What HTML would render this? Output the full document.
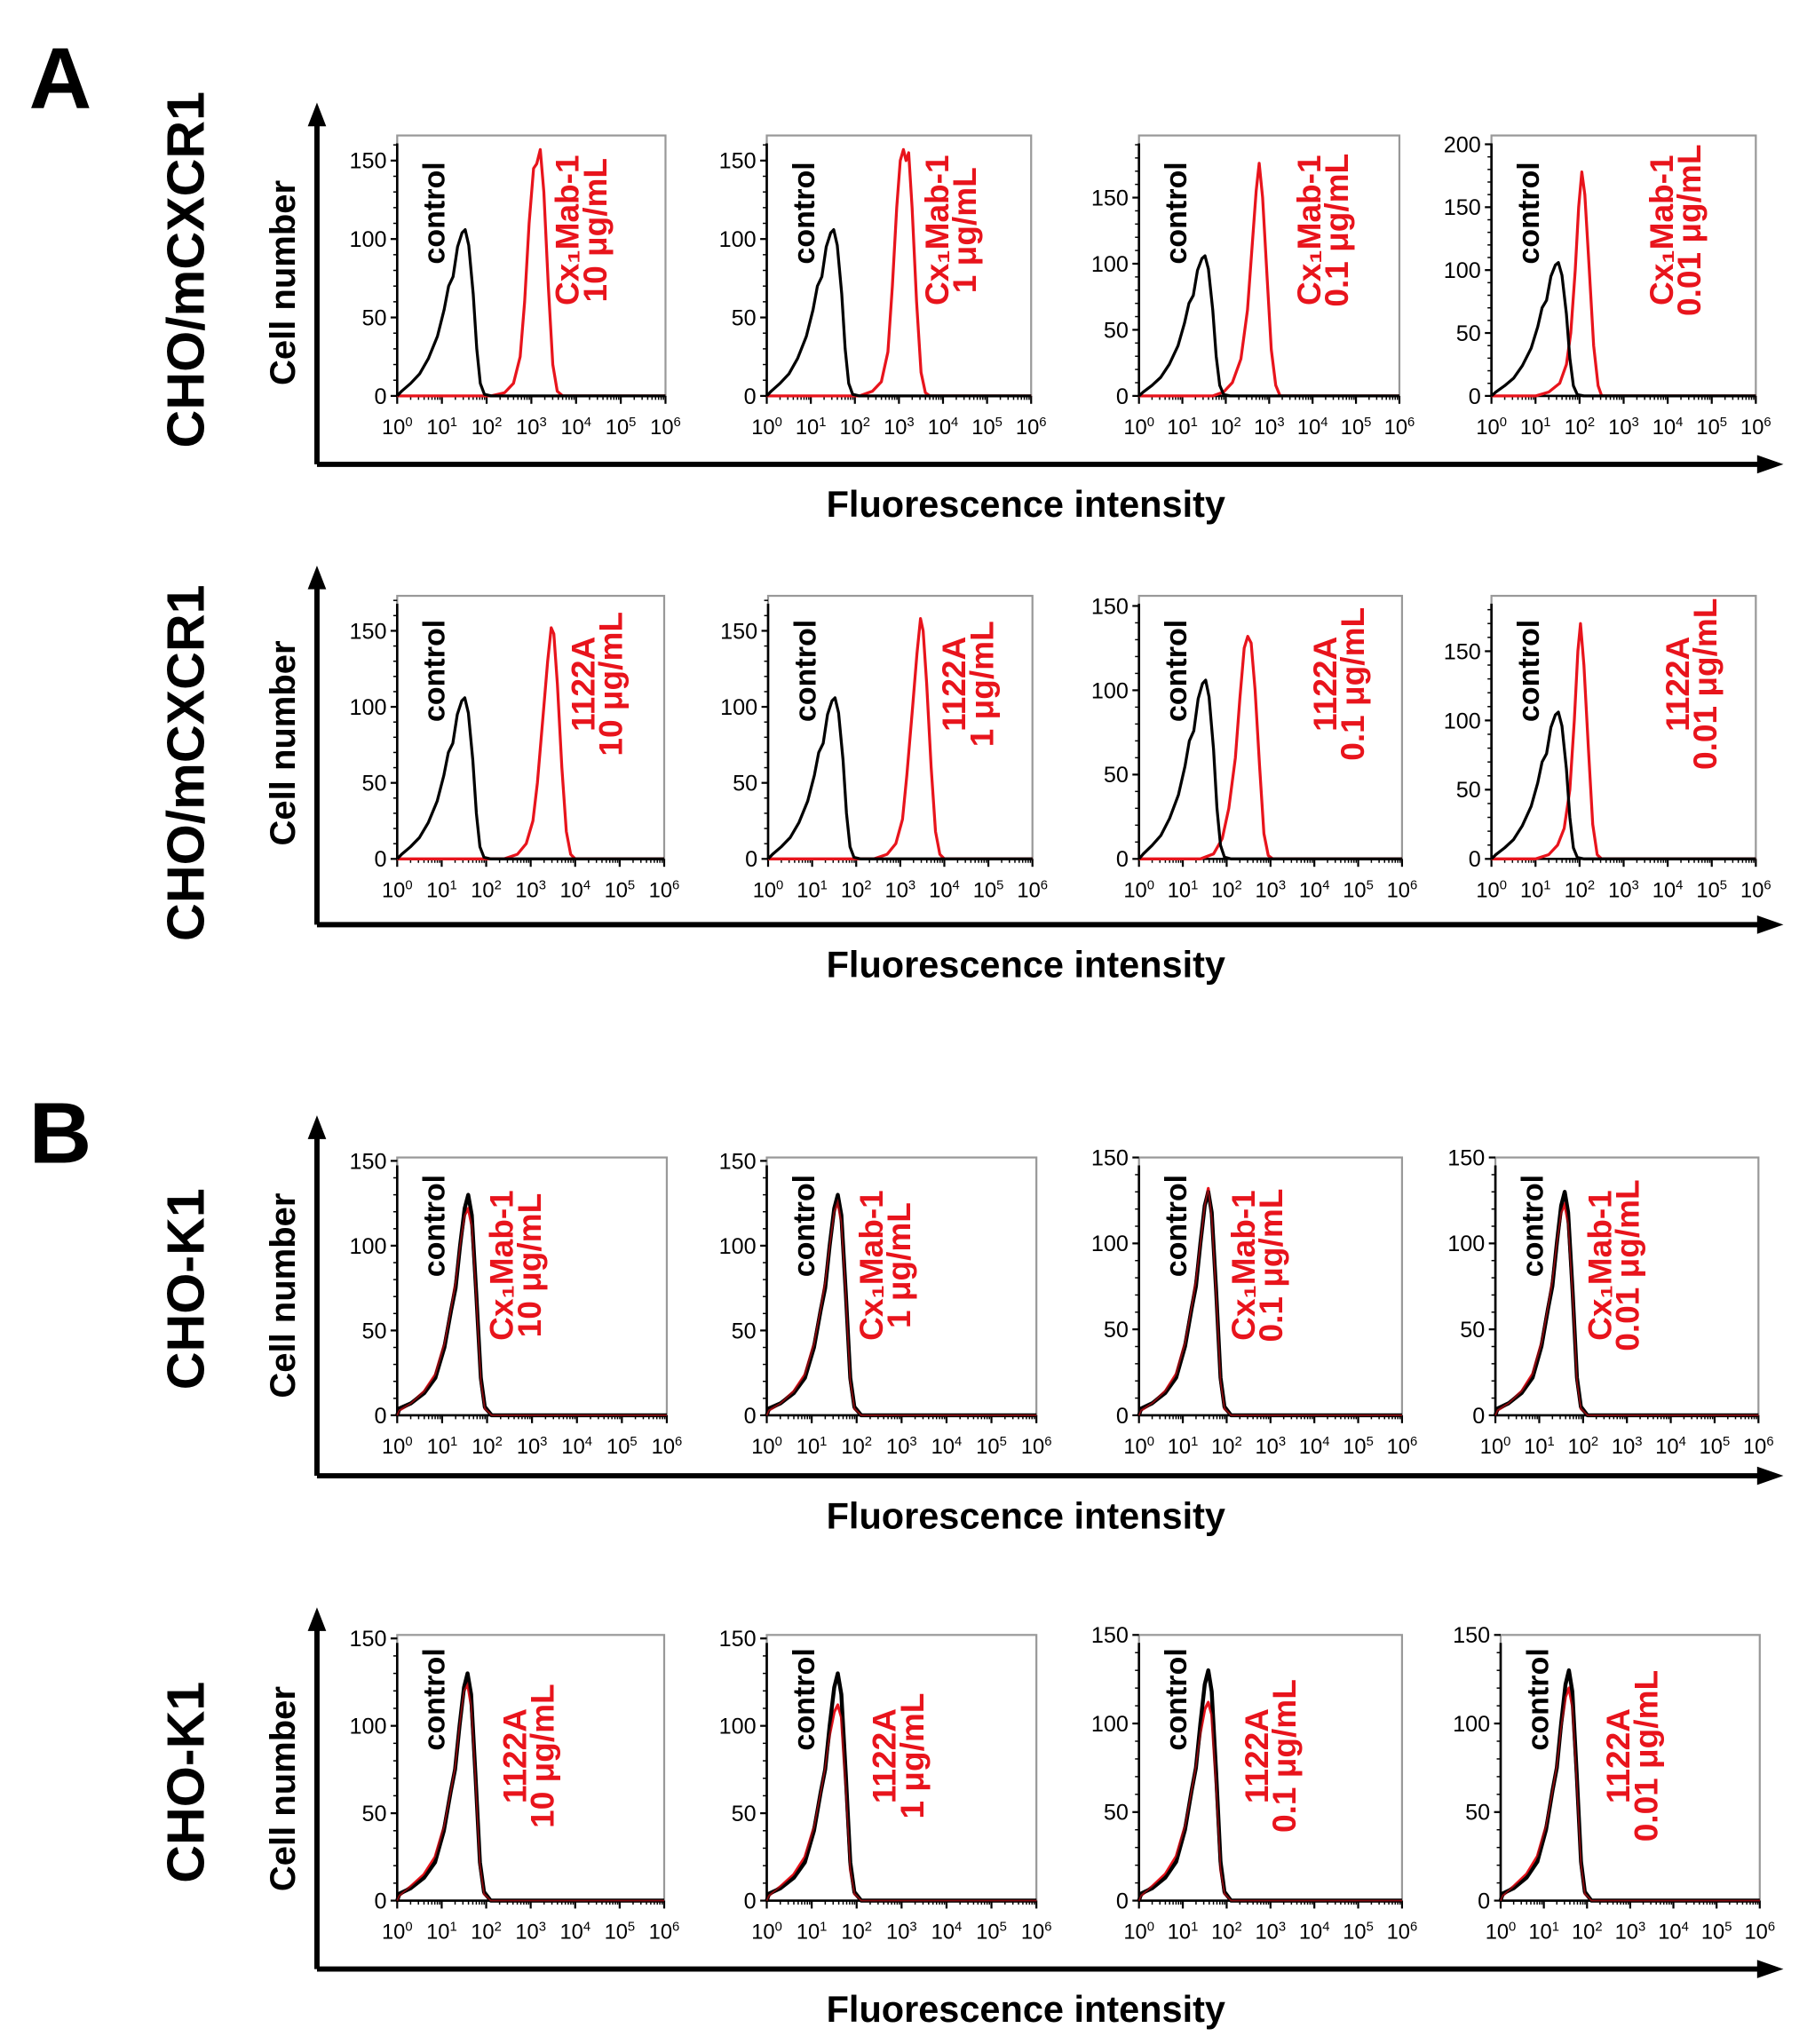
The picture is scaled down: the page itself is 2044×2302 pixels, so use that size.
<!DOCTYPE html>
<html><head><meta charset="utf-8"><style>
html,body{margin:0;padding:0;background:#fff;}
svg{display:block;font-family:"Liberation Sans",Arial,sans-serif;}
</style></head><body>
<svg id="fig" width="2044" height="2302" viewBox="0 0 1380 1554" preserveAspectRatio="none" xmlns="http://www.w3.org/2000/svg"></svg>
<script>
// ---- data ----
const decadeLabels = ["0","1","2","3","4","5","6"];
const concentrations = ["10 μg/mL","1 μg/mL","0.1 μg/mL","0.01 μg/mL"];
const antibodies = ["Cx₁Mab-1","1122A","Cx₁Mab-1","1122A"];
const rowCellLines = ["CHO/mCXCR1","CHO/mCXCR1","CHO-K1","CHO-K1"];
// control histogram (log10 intensity, count) for CHO/mCXCR1 rows
const controlA = [[0,0],[0.1,3],[0.3,8],[0.5,14],[0.7,24],[0.9,38],[1.05,55],[1.15,70],[1.25,76],[1.35,95],[1.45,104],[1.52,106],[1.6,96],[1.7,65],[1.78,30],[1.86,8],[1.95,1],[2.1,0],[6,0]];
// control histogram for CHO-K1 rows
const controlB = [[0,0],[0.05,4],[0.3,7],[0.6,13],[0.85,22],[1.05,40],[1.2,62],[1.3,75],[1.4,100],[1.5,122],[1.58,130],[1.66,118],[1.76,72],[1.86,22],[1.95,5],[2.1,0],[6,0]];
const redA1 = [[0,0],[2.1,0],[2.4,2],[2.6,8],[2.75,25],[2.85,60],[2.95,110],[3.05,145],[3.12,148],[3.2,157],[3.28,130],[3.38,70],[3.48,20],[3.58,3],[3.7,0],[6,0]];
const redA2 = [[0,0],[2.1,0],[2.4,3],[2.6,9],[2.75,28],[2.85,70],[2.95,120],[3.03,150],[3.1,157],[3.16,150],[3.22,155],[3.3,120],[3.4,60],[3.5,15],[3.6,2],[3.7,0],[6,0]];
const redA3 = [[0,0],[1.7,0],[1.95,3],[2.15,10],[2.35,28],[2.5,65],[2.6,110],[2.7,155],[2.77,176],[2.85,150],[2.95,90],[3.05,35],[3.15,8],[3.25,0],[6,0]];
const redA4 = [[0,0],[1.0,0],[1.3,3],[1.55,10],[1.7,25],[1.8,50],[1.9,100],[1.98,150],[2.05,178],[2.12,160],[2.22,100],[2.32,40],[2.42,8],[2.5,0],[6,0]];
const redB1 = [[0,0],[2.4,0],[2.7,3],[2.9,10],[3.05,25],[3.15,50],[3.28,95],[3.38,130],[3.46,152],[3.52,148],[3.6,115],[3.7,60],[3.8,18],[3.9,3],[4.0,0],[6,0]];
const redB2 = [[0,0],[2.4,0],[2.7,3],[2.9,10],[3.05,26],[3.15,55],[3.28,100],[3.38,135],[3.46,158],[3.52,150],[3.6,115],[3.7,60],[3.8,18],[3.9,3],[4.0,0],[6,0]];
const redB3 = [[0,0],[1.4,0],[1.7,3],[1.9,12],[2.05,30],[2.2,60],[2.3,95],[2.4,125],[2.48,132],[2.56,128],[2.65,100],[2.75,55],[2.85,15],[2.95,2],[3.05,0],[6,0]];
const redB4 = [[0,0],[1.0,0],[1.3,3],[1.5,10],[1.65,22],[1.78,50],[1.88,100],[1.96,150],[2.02,170],[2.1,140],[2.2,80],[2.3,25],[2.4,3],[2.5,0],[6,0]];
const redC1 = [[0,0],[0.05,3],[0.3,7],[0.6,14],[0.85,24],[1.05,42],[1.2,63],[1.3,78],[1.4,100],[1.5,118],[1.58,122],[1.66,112],[1.76,70],[1.86,20],[1.95,4],[2.1,0],[6,0]];
const redC2 = [[0,0],[0.05,3],[0.3,7],[0.6,14],[0.85,24],[1.05,42],[1.2,63],[1.3,78],[1.4,100],[1.5,120],[1.58,126],[1.66,114],[1.76,70],[1.86,20],[1.95,4],[2.1,0],[6,0]];
const redC3 = [[0,0],[0.05,3],[0.3,7],[0.6,14],[0.85,24],[1.05,42],[1.2,63],[1.3,78],[1.4,100],[1.5,122],[1.58,132],[1.66,115],[1.76,70],[1.86,20],[1.95,4],[2.1,0],[6,0]];
const redC4 = [[0,0],[0.05,3],[0.3,7],[0.6,14],[0.85,24],[1.05,42],[1.2,63],[1.3,78],[1.4,100],[1.5,118],[1.58,123],[1.66,112],[1.76,70],[1.86,20],[1.95,4],[2.1,0],[6,0]];
const redD1 = [[0,0],[0.05,3],[0.3,8],[0.6,15],[0.85,25],[1.05,42],[1.2,62],[1.3,76],[1.4,100],[1.5,120],[1.58,124],[1.66,112],[1.76,70],[1.86,20],[1.95,4],[2.1,0],[6,0]];
const redD2 = [[0,0],[0.05,3],[0.3,8],[0.6,15],[0.85,25],[1.05,42],[1.2,62],[1.3,76],[1.4,95],[1.5,108],[1.58,112],[1.66,105],[1.76,65],[1.86,18],[1.95,4],[2.1,0],[6,0]];
const redD3 = [[0,0],[0.05,3],[0.3,8],[0.6,15],[0.85,25],[1.05,42],[1.2,62],[1.3,76],[1.4,95],[1.5,108],[1.58,112],[1.66,105],[1.76,65],[1.86,18],[1.95,4],[2.1,0],[6,0]];
const redD4 = [[0,0],[0.05,3],[0.3,8],[0.6,15],[0.85,25],[1.05,42],[1.2,62],[1.3,76],[1.4,98],[1.5,115],[1.58,120],[1.66,110],[1.76,68],[1.86,20],[1.95,4],[2.1,0],[6,0]];
const redSeries = [[redA1,redA2,redA3,redA4],[redB1,redB2,redB3,redB4],[redC1,redC2,redC3,redC4],[redD1,redD2,redD3,redD4]];
const controlSeries = [controlA,controlA,controlB,controlB];
const yMax = [[166,166,197,207],[173,173,156,190],[152,152,150,150],[152,152,150,150]];
const yTicks = [[[0,50,100,150],[0,50,100,150],[0,50,100,150],[0,50,100,150,200]],
 [[0,50,100,150],[0,50,100,150],[0,50,100,150],[0,50,100,150]],
 [[0,50,100,150],[0,50,100,150],[0,50,100,150],[0,50,100,150]],
 [[0,50,100,150],[0,50,100,150],[0,50,100,150],[0,50,100,150]]];

// ---- layout ----
const rows = [
 {boxTop:103, zeroY:301, axTop:78, axY:353, labY:383, rowLabY:205, cellY:215, lefts:[302,583,866,1134], rights:[506,784,1064,1335], ctrlY:162, redY:175, redDx:138},
 {boxTop:453, zeroY:653, axTop:430, axY:703, labY:733, rowLabY:580, cellY:565, lefts:[302,584,866,1134], rights:[505,785,1066,1335], ctrlY:510, redY:520, redDx:150},
 {boxTop:880, zeroY:1076, axTop:848, axY:1122, labY:1152, rowLabY:980, cellY:985, lefts:[302,583,866,1137], rights:[507,788,1066,1337], ctrlY:932, redY:962, redDx:88},
 {boxTop:1243, zeroY:1445, axTop:1222, axY:1497, labY:1527, rowLabY:1355, cellY:1360, lefts:[302,583,866,1141], rights:[505,788,1066,1338], ctrlY:1292, redY:1335, redDx:98}
];
const NS="http://www.w3.org/2000/svg";
const svg=document.getElementById('fig');
function mk(tag,attrs,parent){const e=document.createElementNS(NS,tag);for(const k in attrs)e.setAttribute(k,attrs[k]);(parent||svg).appendChild(e);return e;}

function txt(x,y,s,attrs,parent){const t=mk('text',Object.assign({x:x,y:y},attrs),parent);t.textContent=s;return t;}

let a=txt(22,82,"A",{'font-size':66,'font-weight':'bold'});


let b=txt(22,884,"B",{'font-size':66,'font-weight':'bold'});



rows.forEach((r,ri)=>{
  const g=mk('g',{});
  
  
  // big axes
  const ax=mk('path',{d:`M241 ${r.axY} L1340 ${r.axY} M241 ${r.axY} L241 ${r.axTop+12}`,stroke:'#000','stroke-width':4,fill:'none'},g);
  
  
  mk('path',{d:`M1356 ${r.axY} L1336 ${r.axY-7} L1336 ${r.axY+7} Z M241 ${r.axTop} L234 ${r.axTop+18} L248 ${r.axTop+18} Z`,fill:'#000'},g);
  const xl=txt(780,r.labY+10,"Fluorescence intensity",{'font-size':28,'font-weight':'bold','text-anchor':'middle'},g);
  
  
  const rl=txt(0,0,rowCellLines[ri],{'font-size':40,'font-weight':'bold','text-anchor':'middle',transform:`translate(155 ${r.rowLabY}) rotate(-90)`},g);
  
  
  const yl=txt(0,0,"Cell number",{'font-size':27,'font-weight':'bold','text-anchor':'middle',transform:`translate(224 ${r.cellY}) rotate(-90)`},g);
  
  

  for(let pi=0;pi<4;pi++){
    const L=r.lefts[pi],R=r.rights[pi],T=r.boxTop,Z=r.zeroY,ym=yMax[ri][pi];
    const xs=v=>L+(R-L)*v/6;
    const ys=v=>Z-(Z-T)*v/ym;
    const pg=mk('g',{},g);
    
    
    const box=mk('rect',{x:L,y:T,width:R-L,height:Z-T,fill:'none',stroke:'#999','stroke-width':1.5},pg);
    
    
    mk('path',{d:`M${L} ${T+6} L${L} ${Z} L${R} ${Z}`,stroke:'#000','stroke-width':1.8,fill:'none'},pg);
    // y ticks
    yTicks[ri][pi].forEach(v=>{
      mk('line',{x1:L-5,x2:L,y1:ys(v),y2:ys(v),stroke:'#000','stroke-width':1.5},pg);
      const t=txt(L-8,ys(v)+6,String(v),{'font-size':17,'text-anchor':'end'},pg);
      
      
    });
    for(let v=10;v<ym;v+=10){mk('line',{x1:L-3,x2:L,y1:ys(v),y2:ys(v),stroke:'#000','stroke-width':1},pg);}
    // x ticks
    decadeLabels.forEach((d,di)=>{
      const x=xs(di);
      mk('line',{x1:x,x2:x,y1:Z,y2:Z+6,stroke:'#000','stroke-width':1.5},pg);
      if(di<6){for(let m=2;m<10;m++){const xm=xs(di+Math.log10(m));mk('line',{x1:xm,x2:xm,y1:Z,y2:Z+3,stroke:'#000','stroke-width':1},pg);}}
      const t=mk('text',{x:x,y:Z+29,'font-size':16,'text-anchor':'middle'},pg);
      
      
      t.appendChild(document.createTextNode('10'));
      const s=mk('tspan',{'font-size':10,dy:-6},t);s.textContent=d;
    });
    const toPath=arr=>arr.map((p,i)=>(i?'L':'M')+xs(p[0]).toFixed(1)+' '+ys(p[1]).toFixed(1)).join(' ');
    const rp=mk('path',{d:toPath(redSeries[ri][pi]),stroke:'#e8141c','stroke-width':2.2,fill:'none','stroke-linejoin':'round'},pg);
    
    
    const cp=mk('path',{d:toPath(controlSeries[ri]),stroke:'#000','stroke-width':ri>=2?3:2.2,fill:'none','stroke-linejoin':'round'},pg);
    
    
    if(ri>=2){
      const rp2=mk('path',{d:toPath(redSeries[ri][pi]),stroke:'#e8141c','stroke-width':1.2,fill:'none','opacity':0.6},pg);
      
      
    }
    const ct=txt(0,0,"control",{'font-size':23,'font-weight':'bold','text-anchor':'middle',transform:`translate(${L+36} ${r.ctrlY}) rotate(-90)`},pg);
    
    
    const rt=mk('text',{'font-size':25,'font-weight':'bold',fill:'#e8141c','text-anchor':'middle',transform:`translate(${L+r.redDx} ${r.redY}) rotate(-90)`},pg);
    
    
    const t1=mk('tspan',{x:0,y:0},rt);t1.textContent=antibodies[ri];
    const t2=mk('tspan',{x:0,y:21},rt);t2.textContent=concentrations[pi];
  }
});
</script>
</body></html>
